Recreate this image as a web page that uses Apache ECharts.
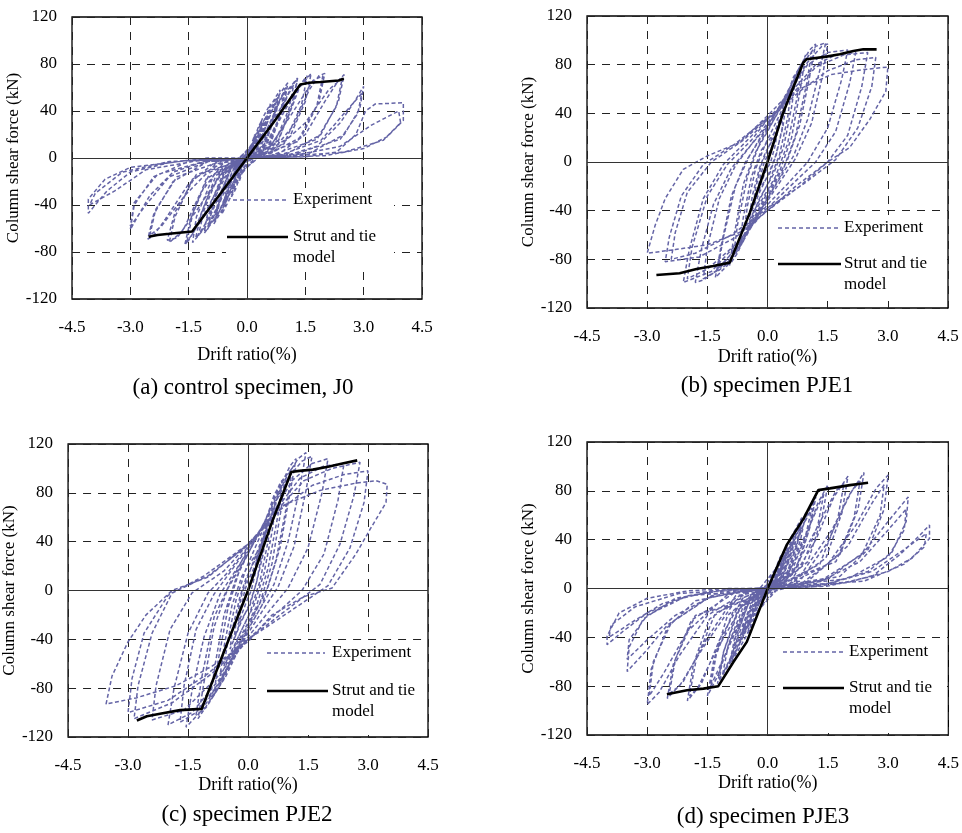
<!DOCTYPE html>
<html><head><meta charset="utf-8">
<script src="https://cdn.jsdelivr.net/npm/echarts@6/dist/echarts.min.js"></script>
<style>html,body{margin:0;padding:0;background:#fff}#c{width:962px;height:833px}</style>
</head><body><div id="c"></div>
<script>
const xTicks = [-4.5, -3.0, -1.5, 0.0, 1.5, 3.0, 4.5];
const yTicks = [-120, -80, -40, 0, 40, 80, 120];
const captions = ['(a) control specimen, J0', '(b) specimen PJE1', '(c) specimen PJE2', '(d) specimen PJE3'];
const xTitle = 'Drift ratio(%)';
const yTitle = 'Column shear force (kN)';
const legendNames = ['Experiment', 'Strut and tie', 'model'];

// (a) J0 experiment (drift %, kN)
const expJ0 = [
[0,0],[0.12,9],[0.25,18],[0.18,10],[0.05,2],[-0.1,-6],[-0.25,-18],[-0.18,-10],[-0.05,-2],[0,0],
[0.15,8],[0.3,21],[0.4,30],[0.32,18],[0.15,5],[0,0],[-0.15,-8],[-0.3,-21],[-0.4,-30],[-0.32,-18],[-0.15,-5],[0,0],
[0.2,9],[0.4,25],[0.55,38],[0.6,42],[0.5,28],[0.3,10],[0.05,1],[-0.2,-9],[-0.4,-25],[-0.58,-40],[-0.62,-43],[-0.5,-28],[-0.3,-10],[-0.05,-1],
[0.25,8],[0.5,28],[0.7,45],[0.8,52],[0.68,34],[0.45,12],[0.1,1],[-0.25,-8],[-0.5,-28],[-0.72,-46],[-0.82,-53],[-0.7,-35],[-0.45,-12],[-0.1,-1],
[0.3,6],[0.6,28],[0.85,50],[1.0,60],[0.88,40],[0.6,14],[0.15,1],[-0.3,-6],[-0.6,-28],[-0.88,-52],[-1.02,-61],[-0.9,-42],[-0.6,-14],[-0.15,-1],
[0.4,6],[0.8,32],[1.1,58],[1.3,68],[1.15,45],[0.8,15],[0.2,1],[-0.4,-6],[-0.8,-32],[-1.12,-60],[-1.32,-68],[-1.18,-48],[-0.8,-15],[-0.2,-1],
[0.5,5],[1.0,30],[1.35,60],[1.65,72],[1.5,48],[1.1,18],[0.3,1],[-0.5,-5],[-1.0,-32],[-1.35,-62],[-1.6,-74],[-1.45,-52],[-1.05,-18],[-0.3,-2],
[0.6,4],[1.2,28],[1.6,58],[1.85,70],[2.0,72],[1.85,48],[1.4,18],[0.5,2],[-0.6,-4],[-1.2,-30],[-1.65,-62],[-2.0,-72],[-1.85,-50],[-1.4,-18],[-0.5,-2],
[0.8,3],[1.5,20],[2.0,48],[2.35,66],[2.5,71],[2.35,48],[1.9,20],[1.0,3],[0,0],[-0.8,-3],[-1.5,-22],[-2.1,-52],[-2.4,-66],[-2.55,-69],[-2.4,-48],[-1.9,-20],[-1.0,-3],
[0,0],[1.0,2],[1.8,10],[2.4,30],[2.8,50],[3.0,61],[2.9,42],[2.5,20],[1.6,4],[0,0],[-1.0,-2],[-1.9,-12],[-2.5,-32],[-2.85,-52],[-3.0,-61],[-2.9,-40],[-2.4,-16],[-1.5,-3],
[0,0],[1.5,1],[2.3,5],[2.8,20],[3.05,40],[3.3,46],[4.02,47],[4.02,32],[3.6,18],[3.0,8],[2.0,2],[0.5,0],[-1.0,0],[-2.0,-4],[-3.0,-12],[-3.6,-28],[-4.08,-47],[-4.08,-35],[-3.65,-18],[-3.0,-8],[-1.5,-2],[0,0],
[0.3,22],[0.45,33],[0.52,36],[0.42,20],[0.2,4],[-0.2,-5],[-0.45,-30],[-0.55,-38],[-0.45,-22],[-0.2,-4],
[0.35,18],[0.6,38],[0.75,48],[0.65,30],[0.4,8],[-0.3,-10],[-0.6,-38],[-0.78,-50],[-0.66,-30],[-0.4,-8],
[0.4,16],[0.75,42],[0.95,56],[0.85,36],[0.55,10],[-0.35,-10],[-0.75,-42],[-0.98,-57],[-0.85,-36],[-0.55,-10],
[0.45,15],[0.9,45],[1.2,62],[1.08,42],[0.7,12],[-0.45,-12],[-0.9,-46],[-1.25,-66],[-1.1,-44],[-0.7,-12],
[0.5,12],[1.05,45],[1.45,66],[1.55,70],[1.4,45],[0.95,12],[-0.5,-10],[-1.1,-48],[-1.5,-70],[-1.55,-72],[-1.4,-48],[-0.95,-12],
[0.6,10],[1.2,40],[1.7,66],[1.95,70],[1.8,45],[1.3,14],[-0.6,-10],[-1.3,-45],[-1.8,-68],[-2.05,-70],[-1.85,-46],[-1.3,-14],
[0.7,6],[1.5,30],[2.1,58],[2.45,68],[2.3,44],[1.8,16],[0.6,2],[-0.8,-5],[-1.6,-32],[-2.2,-58],[-2.5,-66],[-2.35,-44],[-1.8,-16],[-0.6,-2],
[0.9,3],[1.9,15],[2.5,38],[2.95,55],[2.85,38],[2.4,16],[1.2,3],[-1.0,-3],[-2.0,-16],[-2.6,-40],[-3.0,-58],[-2.9,-38],[-2.3,-14],[-1.0,-2],
[1.2,2],[2.4,10],[3.2,28],[3.9,40],[3.95,30],[3.5,15],[2.5,5],[0.8,1],[-1.2,-2],[-2.6,-10],[-3.4,-28],[-4.05,-40],[-3.9,-30],[-3.2,-12],[-2.0,-3],[0,0],
[0.1,10],[0.2,20],[0.14,10],[0.05,1],[-0.1,-10],[-0.2,-20],[-0.14,-10],[-0.05,-1],
[0.15,13],[0.3,27],[0.38,32],[0.3,18],[0.12,3],[-0.15,-13],[-0.3,-27],[-0.4,-33],[-0.3,-18],[-0.12,-3],
[0.2,16],[0.4,34],[0.6,46],[0.5,28],[0.25,6],[-0.2,-16],[-0.4,-32],[-0.65,-48],[-0.55,-30],[-0.25,-6],
[0.3,20],[0.6,44],[0.85,58],[0.75,38],[0.45,10],[-0.3,-20],[-0.6,-42],[-0.85,-56],[-0.75,-38],[-0.45,-10],
[0.35,20],[0.7,48],[1.05,64],[0.95,44],[0.6,12],[-0.35,-20],[-0.75,-48],[-1.1,-64],[-1.0,-44],[-0.6,-12],
[0.45,20],[0.9,52],[1.3,68],[1.2,48],[0.8,14],[-0.45,-20],[-0.95,-54],[-1.4,-72],[-1.3,-50],[-0.85,-14],[0,0]
];
// (b) PJE1 experiment
const expPJE1 = [
[0,0],[0.12,12],[0.25,25],[0.18,12],[0.08,0],[-0.05,-8],[-0.25,-25],[-0.18,-12],[-0.08,0],[0,5],
[0.15,15],[0.32,32],[0.45,45],[0.38,28],[0.2,5],[0.05,-8],[-0.2,-25],[-0.45,-45],[-0.38,-28],[-0.2,-5],[-0.05,8],
[0.2,22],[0.45,45],[0.7,68],[0.6,45],[0.4,12],[0.15,-10],[-0.2,-30],[-0.45,-50],[-0.7,-68],[-0.6,-45],[-0.4,-12],[-0.15,10],
[0.2,25],[0.55,55],[0.85,80],[0.95,88],[0.82,60],[0.6,20],[0.3,-8],[0,-25],[-0.4,-50],[-0.75,-75],[-0.95,-85],[-0.82,-58],[-0.6,-18],[-0.3,8],[0,25],
[0.4,50],[0.8,78],[1.05,92],[1.2,97],[1.05,70],[0.8,30],[0.5,2],[0,-28],[-0.5,-58],[-1.0,-85],[-1.3,-95],[-1.15,-68],[-0.9,-28],[-0.55,0],[0,28],
[0.45,55],[0.9,82],[1.2,95],[1.45,98],[1.3,75],[1.0,35],[0.65,5],[0,-30],[-0.6,-62],[-1.2,-88],[-1.6,-97],[-1.8,-99],[-1.65,-72],[-1.35,-35],[-0.9,-5],[0,30],
[0.5,55],[1.0,80],[1.5,90],[2.0,92],[1.85,68],[1.5,28],[1.0,0],[0.5,-18],[0,-35],[-0.7,-65],[-1.4,-90],[-2.1,-99],[-1.95,-72],[-1.6,-30],[-1.1,-2],[-0.5,18],[0,35],
[0.6,55],[1.2,78],[1.9,88],[2.5,90],[2.35,62],[2.0,22],[1.5,0],[0.8,-20],[0,-40],[-0.8,-62],[-1.7,-78],[-2.55,-82],[-2.45,-62],[-2.15,-28],[-1.6,-2],[-0.8,15],[0,36],
[0.8,60],[1.6,72],[2.4,76],[3.0,78],[2.95,58],[2.55,35],[2.05,12],[1.5,0],[0.7,-20],[0,-40],[-0.7,-58],[-1.5,-68],[-2.3,-72],[-3.0,-75],[-2.8,-52],[-2.55,-30],[-2.1,-6],[-1.5,5],[-0.7,16],[0,38],[0.5,55],
[0.2,20],[0.35,35],[0.38,30],[0.22,6],[0.05,-10],[-0.2,-22],[-0.35,-35],[-0.3,-22],[-0.15,-2],[0,10],
[0.3,35],[0.5,52],[0.58,56],[0.5,36],[0.3,6],[0.05,-15],[-0.3,-38],[-0.58,-56],[-0.5,-36],[-0.3,-6],[-0.05,15],
[0.35,42],[0.65,70],[0.85,80],[0.75,55],[0.5,15],[0.2,-12],[-0.3,-40],[-0.6,-65],[-0.85,-78],[-0.75,-52],[-0.5,-12],[-0.2,15],
[0.4,48],[0.8,78],[1.1,90],[0.98,65],[0.7,22],[0.35,-10],[0,-30],[-0.55,-62],[-1.05,-85],[-1.25,-90],[-1.1,-62],[-0.8,-20],[-0.45,5],[0,30],
[0.5,55],[1.0,82],[1.35,95],[1.5,97],[1.38,72],[1.1,32],[0.7,3],[0,-32],[-0.7,-68],[-1.3,-90],[-1.6,-96],[-1.5,-70],[-1.2,-30],[-0.8,-3],[0,32],
[0.6,58],[1.2,80],[1.7,88],[2.2,90],[2.05,65],[1.7,25],[1.2,0],[0.5,-22],[0,-38],[-0.8,-68],[-1.5,-88],[-2.0,-96],[-1.88,-70],[-1.5,-28],[-1.0,-2],[-0.4,18],[0,35],
[0.8,58],[1.5,75],[2.2,84],[2.7,86],[2.6,62],[2.25,28],[1.7,2],[0.9,-18],[0,-38],[-0.9,-60],[-1.8,-75],[-2.4,-80],[-2.3,-58],[-2.0,-25],[-1.4,0],[-0.6,18],[0,36]
];
// (c) PJE2 experiment
const expPJE2 = [
[0,0],[0.12,14],[0.25,28],[0.18,14],[0.08,0],[-0.05,-10],[-0.25,-28],[-0.18,-14],[-0.08,0],[0,8],
[0.2,22],[0.35,38],[0.45,48],[0.38,30],[0.2,5],[0.05,-10],[-0.2,-28],[-0.45,-48],[-0.38,-30],[-0.2,-5],[-0.05,10],
[0.25,30],[0.5,55],[0.7,72],[0.6,48],[0.4,14],[0.15,-12],[-0.2,-35],[-0.45,-55],[-0.7,-70],[-0.6,-46],[-0.4,-12],[-0.15,12],
[0.3,35],[0.65,68],[0.85,88],[0.95,95],[0.82,65],[0.6,22],[0.3,-10],[0,-28],[-0.4,-55],[-0.75,-80],[-0.95,-90],[-0.82,-60],[-0.6,-20],[-0.3,10],[0,30],
[0.4,55],[0.8,85],[1.05,102],[1.2,108],[1.05,80],[0.8,35],[0.5,3],[0,-30],[-0.5,-62],[-0.95,-90],[-1.25,-105],[-1.1,-75],[-0.85,-30],[-0.5,2],[0,30],
[0.5,62],[0.95,92],[1.25,108],[1.45,113],[1.3,85],[1.0,40],[0.65,5],[0,-32],[-0.6,-68],[-1.15,-98],[-1.55,-112],[-1.4,-82],[-1.1,-38],[-0.7,-3],[0,32],
[0.6,62],[1.1,90],[1.6,104],[2.0,108],[1.85,80],[1.5,35],[1.0,2],[0.5,-18],[0,-38],[-0.7,-72],[-1.4,-100],[-2.0,-110],[-1.85,-80],[-1.5,-35],[-1.0,-2],[-0.5,15],[0,36],
[0.7,65],[1.4,90],[2.1,100],[2.8,105],[2.65,78],[2.3,38],[1.8,5],[1.0,-15],[0,-40],[-0.9,-68],[-1.9,-92],[-2.85,-105],[-2.75,-78],[-2.4,-35],[-1.9,-2],[-1.0,12],[0,37],
[0.9,70],[1.8,82],[2.7,88],[3.2,90],[3.48,87],[3.45,72],[3.05,50],[2.7,30],[2.1,2],[1.4,-5],[0.6,-20],[0,-42],[-0.9,-62],[-1.8,-78],[-2.8,-88],[-3.55,-93],[-3.4,-70],[-3.0,-42],[-2.55,-20],[-1.9,0],[-1.0,11],[0,38],[0.6,60],
[0.2,24],[0.35,40],[0.38,36],[0.22,8],[0.05,-12],[-0.2,-26],[-0.35,-40],[-0.3,-26],[-0.15,-2],[0,12],
[0.3,38],[0.5,58],[0.6,62],[0.5,40],[0.3,8],[0.05,-18],[-0.3,-42],[-0.6,-62],[-0.5,-40],[-0.3,-8],[-0.05,18],
[0.35,48],[0.65,78],[0.85,90],[0.75,62],[0.5,18],[0.2,-14],[-0.3,-45],[-0.6,-72],[-0.85,-86],[-0.75,-58],[-0.5,-14],[-0.2,18],
[0.4,55],[0.8,88],[1.1,100],[0.98,72],[0.7,25],[0.35,-12],[0,-32],[-0.55,-70],[-1.05,-96],[-1.3,-102],[-1.15,-70],[-0.85,-22],[-0.45,6],[0,34],
[0.5,60],[1.0,92],[1.35,106],[1.6,110],[1.45,82],[1.15,36],[0.75,3],[0,-35],[-0.7,-75],[-1.3,-100],[-1.7,-108],[-1.6,-78],[-1.3,-32],[-0.85,-3],[0,35],
[0.6,62],[1.3,92],[1.9,102],[2.4,104],[2.25,74],[1.9,30],[1.35,0],[0.6,-22],[0,-40],[-0.8,-72],[-1.6,-98],[-2.4,-106],[-2.3,-78],[-1.95,-32],[-1.4,-2],[-0.6,16],[0,38],
[0.8,66],[1.6,86],[2.4,95],[3.0,98],[2.9,72],[2.55,35],[2.0,4],[1.1,-16],[0,-40],[-1.0,-68],[-2.0,-90],[-3.0,-100],[-2.9,-72],[-2.6,-35],[-2.0,-4],[-1.1,12],[0,38]
];
// (d) PJE3 experiment
const expPJE3 = [
[0,0],[0.12,7],[0.25,15],[0.18,8],[0.05,1],[-0.1,-5],[-0.25,-15],[-0.18,-8],[-0.05,-1],[0,0],
[0.15,8],[0.32,20],[0.45,30],[0.36,17],[0.15,4],[0,0],[-0.15,-8],[-0.32,-20],[-0.45,-30],[-0.36,-17],[-0.15,-4],[0,0],
[0.2,8],[0.45,26],[0.62,40],[0.7,45],[0.58,28],[0.35,9],[0.05,1],[-0.2,-8],[-0.45,-26],[-0.62,-40],[-0.7,-45],[-0.58,-28],[-0.35,-9],[-0.05,-1],
[0.25,7],[0.55,30],[0.8,50],[0.95,62],[0.82,40],[0.55,14],[0.1,2],[-0.25,-7],[-0.55,-30],[-0.8,-52],[-0.95,-62],[-0.82,-40],[-0.55,-14],[-0.1,-2],
[0.35,8],[0.7,35],[1.0,62],[1.2,75],[1.05,50],[0.75,18],[0.2,2],[-0.35,-8],[-0.7,-36],[-1.0,-64],[-1.25,-78],[-1.1,-52],[-0.75,-18],[-0.2,-2],
[0.45,8],[0.9,38],[1.25,70],[1.5,85],[1.35,58],[1.0,22],[0.3,3],[-0.45,-8],[-0.9,-40],[-1.25,-72],[-1.5,-88],[-1.35,-60],[-1.0,-22],[-0.3,-3],
[0.6,7],[1.2,40],[1.65,75],[2.0,92],[1.85,62],[1.45,25],[0.5,3],[-0.6,-7],[-1.2,-42],[-1.65,-78],[-2.0,-92],[-1.85,-62],[-1.45,-25],[-0.5,-3],
[0.8,6],[1.5,38],[2.0,75],[2.4,95],[2.25,65],[1.8,28],[0.8,3],[-0.8,-6],[-1.5,-40],[-2.1,-76],[-2.5,-90],[-2.35,-62],[-1.9,-26],[-0.8,-3],
[0.5,3],[1.5,20],[2.2,52],[2.7,82],[3.0,93],[2.9,65],[2.5,32],[1.8,10],[0.6,2],[-0.5,-2],[-1.5,-22],[-2.2,-55],[-2.7,-85],[-3.0,-95],[-2.9,-66],[-2.5,-32],[-1.8,-10],[-0.6,-2],
[0.5,1],[1.5,8],[2.4,30],[3.0,55],[3.5,75],[3.45,55],[3.1,30],[2.5,14],[1.5,4],[0.3,0],[-0.5,-1],[-1.5,-8],[-2.5,-30],[-3.0,-50],[-3.5,-68],[-3.45,-48],[-3.1,-25],[-2.3,-8],[-1.2,-2],
[0,0],[1.5,2],[2.6,10],[3.3,28],[3.8,44],[4.03,52],[4.03,41],[3.6,25],[3.0,14],[2.0,5],[1.0,1],[0,0],[-1.0,-1],[-2.0,-6],[-3.0,-20],[-3.6,-35],[-4.0,-46],[-4.0,-39],[-3.7,-20],[-3.0,-8],[-2.0,-2],[-1.0,0],[0,0],
[0.2,12],[0.35,22],[0.28,12],[0.1,2],[-0.2,-10],[-0.35,-22],[-0.28,-12],[-0.1,-2],
[0.3,16],[0.55,34],[0.62,38],[0.5,22],[0.25,5],[-0.3,-16],[-0.55,-34],[-0.62,-38],[-0.5,-22],[-0.25,-5],
[0.35,16],[0.65,40],[0.85,54],[0.72,34],[0.45,10],[-0.35,-16],[-0.65,-40],[-0.85,-55],[-0.72,-34],[-0.45,-10],
[0.4,16],[0.8,46],[1.1,66],[0.95,44],[0.6,14],[-0.4,-16],[-0.8,-48],[-1.12,-70],[-0.98,-46],[-0.6,-14],
[0.5,14],[1.0,48],[1.4,78],[1.25,52],[0.85,18],[-0.5,-14],[-1.0,-50],[-1.42,-80],[-1.28,-54],[-0.85,-18],
[0.6,12],[1.2,48],[1.7,80],[1.9,86],[1.75,58],[1.3,20],[-0.6,-12],[-1.3,-52],[-1.75,-82],[-1.95,-88],[-1.78,-58],[-1.3,-20],
[0.8,10],[1.6,48],[2.1,80],[2.3,88],[2.15,58],[1.7,22],[-0.8,-10],[-1.6,-48],[-2.2,-80],[-2.45,-86],[-2.3,-58],[-1.8,-22],
[1.0,6],[2.0,35],[2.6,70],[2.9,85],[2.8,60],[2.35,28],[1.4,8],[-1.0,-5],[-2.0,-35],[-2.6,-70],[-2.95,-88],[-2.85,-60],[-2.4,-28],[-1.4,-6],
[1.2,4],[2.3,22],[3.0,48],[3.45,65],[3.4,48],[3.0,26],[2.0,8],[-1.2,-3],[-2.3,-22],[-3.0,-42],[-3.5,-58],[-3.45,-42],[-3.0,-22],[-2.0,-6],
[1.4,3],[2.6,14],[3.4,32],[3.95,45],[3.9,34],[3.4,20],[2.4,6],[-1.4,-2],[-2.6,-12],[-3.4,-28],[-3.95,-40],[-3.9,-30],[-3.3,-15],[-2.2,-4],[0,0],
[0.15,12],[0.3,25],[0.5,36],[0.4,22],[0.2,5],[-0.15,-12],[-0.3,-25],[-0.5,-37],[-0.4,-22],[-0.2,-5],
[0.25,18],[0.55,40],[0.85,58],[0.75,38],[0.45,10],[-0.25,-18],[-0.55,-40],[-0.9,-60],[-0.8,-40],[-0.45,-10],
[0.35,22],[0.75,50],[1.15,72],[1.05,50],[0.7,16],[-0.35,-22],[-0.8,-52],[-1.2,-74],[-1.1,-52],[-0.7,-16],[0,0]
];
// Strut-and-tie model curves
const stmJ0 = [[-2.53,-67],[-2.3,-65.5],[-2.0,-64.5],[-1.41,-62.5],[-0.7,-31],[0,0],[0.7,31],[1.37,62.5],[1.6,64],[1.89,64.7],[2.36,66],[2.49,67.5]];
const stmPJE1 = [[-2.77,-92.9],[-2.52,-92.3],[-2.19,-91.5],[-1.77,-88],[-1.35,-85.5],[-0.94,-82.7],[-0.44,-41.6],[0,0],[0.39,40.5],[0.89,81.6],[0.97,84.4],[1.47,86.6],[1.8,88.5],[2.14,91.2],[2.39,92.6],[2.72,92.6]];
const stmPJE2 = [[-2.78,-106.5],[-2.53,-103],[-2.2,-101],[-1.7,-98],[-1.16,-97],[-0.6,-50],[0,0],[0.6,56],[1.08,97],[1.28,98],[1.62,99],[2.03,101.6],[2.36,104],[2.73,106.6]];
const stmPJE3 = [[-2.51,-86.6],[-2.01,-83.3],[-1.6,-82],[-1.23,-80],[-0.85,-60],[-0.52,-43.7],[0,0],[0.47,35.5],[0.89,57],[1.26,80.6],[1.55,82],[2.05,84.7],[2.5,86.6]];

const expData = [expJ0, expPJE1, expPJE2, expPJE3];
const stmData = [stmJ0, stmPJE1, stmPJE2, stmPJE3];

// layout (pixels)
const grids = [
  {left:72, top:17, width:350, height:282},
  {left:587, top:16, width:361, height:292},
  {left:66, top:444, width:362, height:293},
  {left:587, top:442, width:362, height:293}
];
const xNameGap = [47, 40, 39, 39];
const yNameGap = [43, 39, 38, 39];
const captionPos = [[243,388],[767,386],[247,815],[763,817]];
const legendPos = [
  {bx:226,by:188,bw:168,bh:80, ex1:233,ex2:286,ey:200, sx1:227,sx2:288,sy:237, tx:293, my:258},
  {bx:774,by:215,bw:171,bh:83, ex1:778,ex2:838,ey:228, sx1:778,sx2:841,sy:264, tx:844, my:285},
  {bx:263,by:640,bw:163,bh:95, ex1:267,ex2:325,ey:653, sx1:267,sx2:328,sy:691, tx:332, my:712},
  {bx:779,by:640,bw:168,bh:93, ex1:783,ex2:843,ey:652, sx1:783,sx2:844,sy:688, tx:849, my:709}
];
const expColor = '#6464a6';
const serif = '"Liberation Serif", "Times New Roman", serif';

const chart = echarts.init(document.getElementById('c'), null, {renderer:'canvas'});
const option = {
  animation: false,
  backgroundColor: '#fff',
  grid: [], xAxis: [], yAxis: [], series: [], graphic: []
};
grids.forEach((g, i) => {
  option.grid.push(Object.assign({show:true, borderColor:'#000', borderWidth:1.3, backgroundColor:'transparent', containLabel:false}, g));
  option.xAxis.push({
    type:'value', gridIndex:i, min:xTicks[0], max:xTicks[xTicks.length-1], interval:1.5,
    axisLine:{show:false}, axisTick:{show:false},
    axisLabel:{margin:20, fontFamily:serif, fontSize:17, color:'#000',
      formatter: v => { const t = xTicks.find(k => Math.abs(k - v) < 1e-6); return (t === undefined ? v : t).toFixed(1); }},
    splitLine:{show:true, lineStyle:{color:'#222', width:1, type:[8,7]}},
    name:xTitle, nameLocation:'middle', nameGap:xNameGap[i],
    nameTextStyle:{fontFamily:serif, fontSize:18, color:'#000'}
  });
  option.yAxis.push({
    type:'value', gridIndex:i, min:yTicks[0], max:yTicks[yTicks.length-1], interval:40,
    axisLine:{show:false}, axisTick:{show:false},
    axisLabel:{margin:15, fontFamily:serif, fontSize:17, color:'#000'},
    splitLine:{show:true, lineStyle:{color:'#222', width:1, type:[8,7]}},
    name:yTitle, nameLocation:'middle', nameGap:yNameGap[i], nameRotate:90,
    nameTextStyle:{fontFamily:serif, fontSize:17, color:'#000'}
  });
  option.series.push({
    name:legendNames[0], type:'line', xAxisIndex:i, yAxisIndex:i, data:expData[i],
    showSymbol:false, symbol:'none', smooth:false, z:3,
    lineStyle:{color:expColor, width:1.5, type:[4,2.5]},
    markLine:{silent:true, symbol:['none','none'], label:{show:false},
      lineStyle:{type:'solid', color:'#333', width:1},
      data:[{xAxis:0},{yAxis:0}]}
  });
  option.series.push({
    name:legendNames[1] + ' ' + legendNames[2], type:'line', xAxisIndex:i, yAxisIndex:i, data:stmData[i],
    showSymbol:false, symbol:'none', smooth:false, z:4,
    lineStyle:{color:'#000', width:2.6, type:'solid'}
  });
  const L = legendPos[i];
  const txt = (t, x, y) => ({type:'text', z:10, x:x, y:y,
    style:{text:t, font:'17px ' + serif, fill:'#000', align:'left', verticalAlign:'middle', textAlign:'left', textVerticalAlign:'middle'}});
  option.graphic.push(
    {type:'rect', z:1, shape:{x:L.bx, y:L.by, width:L.bw, height:L.bh}, style:{fill:'#fff'}},
    {type:'line', z:10, shape:{x1:L.ex1, y1:L.ey, x2:L.ex2, y2:L.ey}, style:{stroke:expColor, lineWidth:1.5, lineDash:[4,3]}},
    {type:'line', z:10, shape:{x1:L.sx1, y1:L.sy, x2:L.sx2, y2:L.sy}, style:{stroke:'#000', lineWidth:2.6}},
    txt(legendNames[0], L.tx, L.ey),
    txt(legendNames[1], L.tx, L.sy),
    txt(legendNames[2], L.tx, L.my),
    {type:'text', z:10, x:captionPos[i][0], y:captionPos[i][1],
      style:{text:captions[i], font:'23px ' + serif, fill:'#000', align:'center', verticalAlign:'middle', textAlign:'center', textVerticalAlign:'middle'}}
  );
});
chart.setOption(option);
</script></body></html>
